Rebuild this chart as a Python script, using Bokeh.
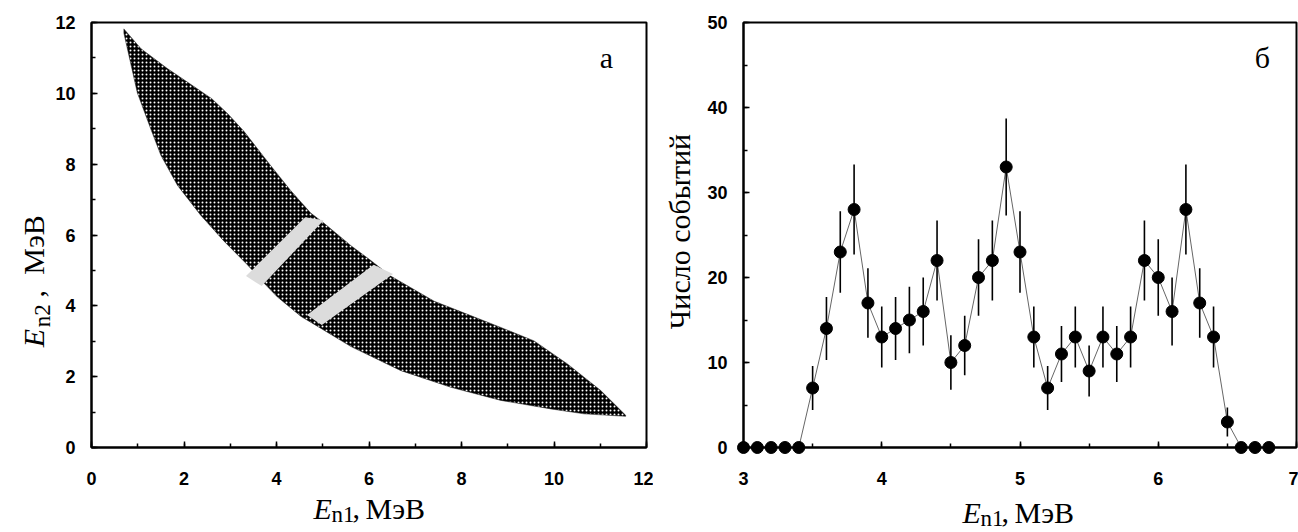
import numpy as np
from bokeh.plotting import figure
from bokeh.layouts import row
from bokeh.models import Range1d, SingleIntervalTicker, Label
from bokeh.core.properties import value
from bokeh.embed import file_html
from bokeh.resources import INLINE

# --- панель а: контур области событий ---
upper_x = [0.70, 1.07, 1.64, 2.15, 2.60, 2.95, 3.30, 3.88, 4.31, 4.74, 5.03,
           5.61, 6.04, 6.47, 7.41, 8.13, 8.85, 9.57, 10.29, 11.01, 11.55]
upper_y = [11.82, 11.26, 10.70, 10.25, 9.85, 9.42, 8.92, 7.95, 7.25, 6.62, 6.33,
           5.70, 5.28, 4.84, 4.13, 3.76, 3.39, 3.01, 2.36, 1.61, 0.91]
lower_x = [0.70, 0.99, 1.28, 1.50, 1.86, 2.36, 2.87, 3.37, 3.70, 4.02, 4.53,
           4.89, 5.61, 6.69, 7.77, 8.85, 9.93, 10.65, 11.55]
lower_y = [11.70, 10.02, 9.00, 8.25, 7.40, 6.56, 5.82, 5.16, 4.68, 4.25, 3.70,
           3.42, 2.85, 2.17, 1.70, 1.33, 1.09, 0.95, 0.88]

# серые полосы (вырезанные окна)
stripe1_x = [4.62, 5.02, 3.68, 3.34]
stripe1_y = [6.50, 6.42, 4.56, 4.84]
stripe2_x = [6.10, 6.52, 4.98, 4.66]
stripe2_y = [5.16, 4.90, 3.46, 3.74]

# --- панель б: число событий ---
e_n1 = [3.0, 3.1, 3.2, 3.3, 3.4, 3.5, 3.6, 3.7, 3.8, 3.9,
        4.0, 4.1, 4.2, 4.3, 4.4, 4.5, 4.6, 4.7, 4.8, 4.9,
        5.0, 5.1, 5.2, 5.3, 5.4, 5.5, 5.6, 5.7, 5.8, 5.9,
        6.0, 6.1, 6.2, 6.3, 6.4, 6.5, 6.6, 6.7, 6.8]
counts = [0, 0, 0, 0, 0, 7, 14, 23, 28, 17,
          13, 14, 15, 16, 22, 10, 12, 20, 22, 33,
          23, 13, 7, 11, 13, 9, 13, 11, 13, 22,
          20, 16, 28, 17, 13, 3, 0, 0, 0]
errors = [0, 0, 0, 0, 0, 2.6, 3.7, 4.8, 5.3, 4.1,
          3.6, 3.7, 3.9, 4.0, 4.7, 3.2, 3.5, 4.5, 4.7, 5.7,
          4.8, 3.6, 2.6, 3.3, 3.6, 3.0, 3.6, 3.3, 3.6, 4.7,
          4.5, 4.0, 5.3, 4.1, 3.6, 1.7, 0, 0, 0]

SERIF = "Liberation Serif"


def style(p, xstep, ystep):
    p.grid.visible = False
    p.outline_line_color = "black"
    p.outline_line_width = 2
    p.xaxis.ticker = SingleIntervalTicker(interval=xstep, num_minor_ticks=2)
    p.yaxis.ticker = SingleIntervalTicker(interval=ystep, num_minor_ticks=2)
    for ax in p.xaxis + p.yaxis:
        ax.axis_line_width = 2
        ax.major_tick_in = 6
        ax.major_tick_out = 0
        ax.minor_tick_in = 4
        ax.minor_tick_out = 0
        ax.major_tick_line_width = 1.5
        ax.minor_tick_line_width = 1.5
        ax.major_label_text_font = "Liberation Sans"
        ax.major_label_text_font_style = "bold"
        ax.major_label_text_font_size = "18px"
        ax.major_label_text_color = "black"
    p.xaxis.major_label_standoff = 24
    p.yaxis.major_label_standoff = 16


def words(p, x, y, text, size="30px", style_="normal", angle=0.0, x_offset=0,
          align="left", baseline="alphabetic"):
    # подписи осей - текстовым глифом поверх всего, чтобы не обрезались рамкой
    p.text(x=[x], y=[y], text=[text], angle=angle, x_offset=x_offset,
           text_font=value(SERIF), text_font_size=value(size),
           text_font_style=value(style_), text_color="black",
           text_align=value(align), text_baseline=value(baseline), level="overlay")


# ---------- а ----------
p1 = figure(width=653, height=532, x_range=Range1d(0, 12), y_range=Range1d(0, 12),
            output_backend="svg", toolbar_location=None,
            min_border_left=91, min_border_right=7, min_border_top=22, min_border_bottom=81)
style(p1, 2, 2)

band_x = upper_x + lower_x[::-1]
band_y = upper_y + lower_y[::-1]
p1.patch(band_x, band_y, fill_color="black", line_color="#222222", line_width=0.5,
         hatch_pattern="dot", hatch_color="white", hatch_scale=4, hatch_weight=1.8)
p1.patch(stripe1_x, stripe1_y, fill_color="#dcdcdc", line_color=None)
p1.patch(stripe2_x, stripe2_y, fill_color="#dcdcdc", line_color=None)

p1.add_layout(Label(x=11.135, y=11.02, text="а", text_font=SERIF, text_font_size="30px",
                    text_color="black", text_align="center", text_baseline="middle"))
# E_n1, МэВ
words(p1, 4.80, -1.710, "E", style_="italic")
words(p1, 4.80, -1.878, "n1", size="23px", x_offset=18)
words(p1, 4.80, -1.710, ",", x_offset=39)
words(p1, 4.80, -1.710, "МэВ", x_offset=52)
# E_n2 , МэВ
words(p1, -1.254, 2.832, "E", style_="italic", angle=np.pi / 2)
words(p1, -1.059, 3.392, "n2", size="23px", angle=np.pi / 2)
words(p1, -1.254, 4.233, " ,", angle=np.pi / 2)
words(p1, -1.254, 4.878, "МэВ", angle=np.pi / 2)

# ---------- б ----------
p2 = figure(width=645, height=532, x_range=Range1d(3, 7), y_range=Range1d(0, 50),
            output_backend="svg", toolbar_location=None,
            min_border_left=90, min_border_right=2, min_border_top=22, min_border_bottom=85)
style(p2, 1, 10)

lo = [c - e for c, e in zip(counts, errors)]
hi = [c + e for c, e in zip(counts, errors)]
p2.line(e_n1, counts, line_color="#666666", line_width=1)
p2.segment(x0=e_n1, y0=lo, x1=e_n1, y1=hi, line_color="black", line_width=1.6)
p2.scatter(e_n1, counts, size=12, fill_color="black", line_color="black", level="overlay")

p2.add_layout(Label(x=6.754, y=45.88, text="б", text_font=SERIF, text_font_size="30px",
                    text_color="black", text_align="center", text_baseline="middle"))
words(p2, 4.584, -7.647, "E", style_="italic")
words(p2, 4.584, -8.353, "n1", size="23px", x_offset=18)
words(p2, 4.584, -7.647, ",", x_offset=39)
words(p2, 4.584, -7.647, "МэВ", x_offset=52)
words(p2, 2.537, 25.41, "Число событий", angle=np.pi / 2, align="center", baseline="middle")

layout = row(p1, p2)
open("out.html", "w").write(file_html(layout, INLINE))
